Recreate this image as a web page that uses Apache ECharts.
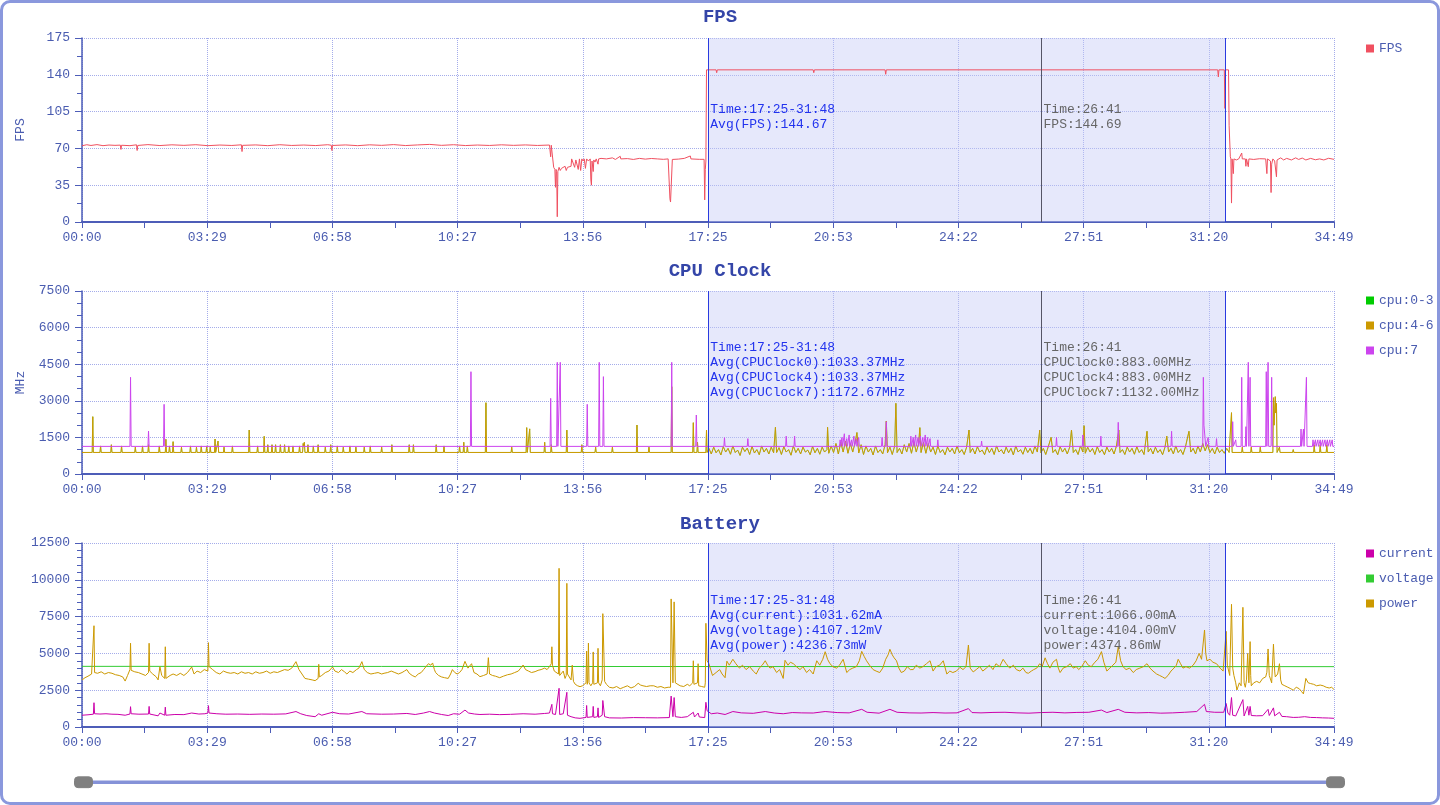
<!DOCTYPE html>
<html><head><meta charset="utf-8">
<script src="https://cdn.jsdelivr.net/npm/echarts@6.0.0/dist/echarts.min.js"></script>
<style>
html,body{margin:0;padding:0;background:#fff;}
#c{width:1440px;height:805px;}
#b{position:absolute;left:0;top:0;width:1440px;height:805px;box-sizing:border-box;border:3px solid #8a98dd;border-radius:10px;pointer-events:none;}
</style>
</head><body><div id="c"></div><div id="b"></div>
<script>
// ---------- data (time in seconds, value) ----------
const selStart = 1045, selEnd = 1908, cursorT = 1601;

const fpsData = [[0,72.5],[8,73.5],[15,72.8],[25,73.6],[35,72.6],[45,73.2],[55,72.9],[64,73.1],[65,69],[66,73],[80,72.6],[91,73.4],[92,68],[93,72.8],[110,73.6],[130,72.7],[150,73.4],[170,72.9],[190,73.5],[210,72.6],[230,73.2],[250,72.8],[266,73.4],[267,67],[268,72.9],[290,73.3],[310,72.6],[330,73.5],[350,72.8],[370,73.2],[390,72.7],[410,73.5],[416,73],[417,68],[418,72.8],[440,73.3],[460,72.6],[480,73.4],[500,72.9],[520,73.6],[540,72.7],[560,73.3],[580,73.8],[600,72.9],[620,73.5],[640,72.7],[660,73.2],[680,72.8],[700,73.4],[720,72.9],[740,73.3],[760,72.8],[780,73.2],[781,73],[782,62],[783,73],[786,73],
[787,52],[789,50],[790,33],[791,50],[792,48],[793,5],[794,48],[796,52],[798,49],[800,51],[803,50],[806,53],[808,49],[810,52],[813,51],[816,53],[817,60],[820,60],[822,52],[824,59],[826,60],[828,50],[830,60],[832,49],[834,60],[836,58],[838,60],[840,51],[842,60],[845,58],[848,60],[849,40],[850,35],[851,58],[853,48],[854,59],[856,57],[858,60],[861,55],[862,60],[866,60.5],[875,60],[885,61],[890,59.5],[898,62.5],[899,60],[910,60.3],[920,59.5],[930,60.5],[940,59.8],[950,60.4],[960,60],[970,59.6],[978,60],[980,60],[981,22],[982,19],[983,18],[984,20],[985,59.5],[995,59.8],[1005,60.5],[1015,62.8],[1016,60],[1030,59.6],[1038,59.6],[1039,21],[1040,50],[1041,58],
[1042,144.7],[1058,144.7],[1059,142],[1060,144.7],[1220,144.7],[1221,142],[1222,144.7],[1340,144.7],[1341,140.5],[1342,144.7],[1762,144.7],[1763,143],[1764,144.7],[1895,144.7],[1896,138],[1897,144.7],[1906,144.7],[1907,108],[1908,144.7],[1913,144.7],[1914,92],[1916,62],[1917,60],[1918,18],[1919,60],[1921,46],[1922,60],[1926,59],[1930,60],[1935,65.6],[1936,60],[1941,60],[1942,53],[1943,60],[1945,60],[1946,52.6],[1947,60],[1955,59.5],[1965,60.2],[1975,60],[1976,60],[1977,46],[1978,60],[1983,58],[1984,28],[1985,55],[1987,60],[1990,58],[1993,43],[1994,59],[2000,61],[2005,59],[2010,60.5],[2018,59],[2025,61],[2030,59.5],[2036,60.8],[2042,59],[2050,60.5],[2058,59.2],[2065,60],[2072,59],[2080,60.6],[2089,59.6]];

const cpu46Data = [[0,883],[17,883],[18,2349],[19,883],[30,883],[31,1150],[32,883],[48,883],[49,1200],[50,883],[65,883],[66,1150],[67,883],[88,883],[89,1100],[90,883],[100,883],[101,1150],[102,883],[110,883],[111,1200],[112,883],[128,883],[129,1150],[130,883],[139,883],[140,1421],[141,883],[145,883],[146,1150],[147,883],[151,883],[152,1325],[153,883],[165,883],[166,1100],[167,883],[180,883],[181,1150],[182,883],[190,883],[191,1100],[192,883],[198,883],[199,1150],[200,883],[207,883],[208,1150],[209,883],[213,883],[214,1100],[215,883],[221,883],[222,1434],[223,883],[226,883],[227,1350],[228,883],[236,883],[237,1100],[238,883],[250,883],[251,1150],[252,883],[278,883],[279,1803],[280,883],[292,883],[293,1150],[294,883],[303,883],[304,1544],[305,883],[309,883],[310,1200],[311,883],[316,883],[317,1200],[318,883],[322,883],[323,1200],[324,883],[330,883],[331,1200],[332,883],[337,883],[338,1200],[339,883],[344,883],[345,1150],[346,883],[351,883],[352,1150],[353,883],[362,883],[363,1150],[364,883],[368,883],[369,1250],[370,1150],[371,1300],[372,883],[376,883],[377,1200],[378,883],[385,883],[386,1150],[387,883],[393,883],[394,1200],[395,883],[405,883],[406,1100],[407,883],[414,883],[415,1200],[416,883],[425,883],[426,1150],[427,883],[435,883],[436,1100],[437,883],[446,883],[447,1150],[448,883],[456,883],[457,1100],[458,883],[470,883],[471,1100],[472,883],[480,883],[481,1150],[482,883],[499,883],[500,1100],[501,883],[516,883],[517,1200],[518,883],[545,883],[546,1200],[547,883],[552,883],[553,1200],[554,883],[590,883],[591,1200],[592,883],[603,883],[604,1150],[605,883],[629,883],[630,1150],[631,883],[636,883],[637,1300],[638,883],[642,883],[643,1150],[644,883],[673,883],[674,2922],[675,883],[716,883],[717,1100],[718,883],[741,883],[742,1900],[743,883],[746,883],[747,1850],[748,883],[771,883],[772,1300],[773,883],[782,883],[783,1200],[784,883],[808,883],[809,1800],[810,883],[833,883],[834,1200],[835,883],[856,883],[857,1100],[858,883],[884,883],[885,1100],[886,883],[925,883],[926,2008],[927,883],[945,883],[946,1100],[947,883],[983,883],[984,3578],[985,883],[1019,883],[1020,2103],[1021,883],[1026,883],[1027,1300],[1028,883],[1041,883],[1042,1803],[1043,883],
[1046,1050],[1050,820],[1054,1100],[1058,870],[1062,1000],[1066,780],[1070,1120],[1074,900],[1078,1050],[1082,810],[1086,1150],[1090,880],[1094,980],[1098,760],[1102,1100],[1106,920],[1110,1060],[1114,800],[1118,1130],[1122,860],[1126,1000],[1130,790],[1134,1150],[1138,900],[1142,1050],[1146,820],[1150,1100],[1154,870],[1157,1913],[1159,880],[1163,1080],[1167,800],[1171,1120],[1175,900],[1179,1000],[1183,770],[1187,1150],[1191,880],[1195,1050],[1199,820],[1203,1100],[1207,900],[1211,980],[1215,790],[1219,1130],[1223,870],[1227,1050],[1231,810],[1235,1100],[1239,900],[1243,1000],[1244,1913],[1246,850],[1250,1150],[1254,880],[1258,1250],[1262,820],[1266,1300],[1270,900],[1274,1350],[1278,850],[1282,1250],[1286,900],[1290,1300],[1293,1700],[1296,860],[1300,1200],[1304,800],[1308,1150],[1312,900],[1316,1050],[1320,780],[1324,1150],[1328,880],[1332,1000],[1336,820],[1340,1200],[1342,2172],[1344,870],[1348,1100],[1352,800],[1356,1150],[1358,2897],[1360,880],[1364,1050],[1368,820],[1372,1200],[1376,900],[1380,1250],[1384,850],[1388,1300],[1392,900],[1396,1250],[1398,1900],[1400,880],[1404,1300],[1408,850],[1412,1250],[1416,900],[1420,1100],[1424,800],[1428,1150],[1432,880],[1436,1000],[1440,790],[1444,1100],[1448,900],[1452,1050],[1456,820],[1460,1150],[1464,870],[1468,1000],[1472,800],[1476,1100],[1480,1803],[1482,880],[1486,1050],[1490,820],[1494,1120],[1498,900],[1502,980],[1506,790],[1510,1100],[1514,880],[1518,1050],[1522,800],[1526,1150],[1530,900],[1534,1000],[1538,820],[1542,1100],[1546,870],[1550,1050],[1554,780],[1558,1150],[1562,900],[1566,1000],[1570,810],[1574,1100],[1578,880],[1582,1050],[1586,820],[1590,1150],[1594,900],[1598,1800],[1600,870],[1604,1050],[1608,800],[1612,1100],[1617,1500],[1620,880],[1624,1000],[1628,790],[1632,1120],[1636,900],[1640,1050],[1644,820],[1648,1100],[1651,1800],[1654,880],[1658,1000],[1662,800],[1666,1150],[1670,900],[1672,1980],[1674,850],[1678,1100],[1682,900],[1686,1050],[1690,800],[1694,1120],[1698,880],[1702,1000],[1706,790],[1710,1100],[1714,900],[1718,1050],[1722,820],[1726,1150],[1730,1800],[1732,880],[1736,1000],[1740,800],[1744,1100],[1748,900],[1752,1050],[1756,810],[1760,1120],[1764,880],[1768,1000],[1772,800],[1777,1750],[1779,900],[1783,1050],[1787,820],[1791,1100],[1795,880],[1799,1000],[1803,790],[1807,1100],[1810,1550],[1813,900],[1817,1050],[1821,820],[1825,1150],[1829,880],[1833,1000],[1837,800],[1841,1100],[1847,1750],[1850,900],[1854,1050],[1858,820],[1862,1150],[1866,900],[1870,1250],[1874,950],[1878,1200],[1882,880],[1886,1050],[1890,820],[1894,1100],[1898,880],[1902,1000],[1906,850],[1910,1050],[1914,883],
[1917,883],[1918,2513],[1919,883],[1935,883],[1936,1100],[1937,883],[1950,883],[1951,1100],[1952,883],[1965,883],[1966,1100],[1967,883],[1987,883],[1988,3127],[1989,2000],[1991,3169],[1992,2500],[1993,2897],[1994,883],[1997,883],[1998,1100],[1999,883],[2020,883],[2021,1000],[2022,883],[2055,883],[2056,1200],[2057,883],[2065,883],[2066,1200],[2067,883],[2076,883],[2077,1200],[2078,883],[2089,883]];

// cpu:0-3 equals cpu:4-6 (same averages), drawn underneath
const cpu03Data = cpu46Data;

const cpu7Data = [[0,1132],[80,1132],[81,3963],[82,1132],[110,1132],[111,1762],[112,1132],[136,1132],[137,2856],[138,1132],[648,1132],[649,4193],[650,1132],[781,1132],[782,3100],[783,1132],[792,1132],[793,4577],[794,1132],[797,1132],[798,4577],[799,1132],[842,1132],[843,2856],[844,1132],[862,1132],[863,4577],[864,1132],[869,1132],[870,3990],[871,1132],[983,1132],[984,4577],[985,1132],[1024,1132],[1025,2418],[1026,1132],
[1071,1132],[1072,1490],[1073,1132],[1110,1132],[1111,1450],[1112,1132],[1174,1132],[1175,1550],[1176,1132],[1188,1132],[1189,1550],[1190,1132],[1264,1132],[1265,1400],[1266,1132],[1268,1500],[1269,1132],[1272,1650],[1273,1132],[1276,1450],[1277,1132],[1280,1600],[1281,1132],[1284,1400],[1285,1132],[1288,1550],[1289,1132],[1292,1450],[1293,1132],[1296,1500],[1297,1132],[1334,1132],[1335,1500],[1336,1132],[1341,1132],[1342,2144],[1343,1132],[1382,1132],[1383,1550],[1384,1132],[1387,1500],[1388,1132],[1391,1600],[1392,1132],[1395,1500],[1396,1132],[1399,1550],[1400,1132],[1403,1500],[1404,1132],[1407,1600],[1408,1132],[1411,1500],[1412,1132],[1415,1450],[1416,1132],[1427,1132],[1428,1400],[1429,1132],[1500,1132],[1501,1350],[1502,1132],[1625,1132],[1626,1500],[1627,1132],[1669,1132],[1670,1600],[1671,1132],[1699,1132],[1700,1550],[1701,1132],[1728,1132],[1729,2118],[1730,1132],[1817,1132],[1818,1750],[1819,1132],[1870,1132],[1871,3963],[1872,2000],[1874,2000],[1875,1132],[1878,1132],[1879,1500],[1880,1132],[1892,1132],[1893,1450],[1894,1132],
[1919,1132],[1920,2144],[1921,1132],[1924,1132],[1925,1400],[1926,1132],[1934,1132],[1935,3963],[1936,1132],[1941,1132],[1942,1940],[1943,1132],[1945,1132],[1946,4577],[1947,1132],[1948,1132],[1949,3963],[1950,1132],[1975,1132],[1976,4193],[1977,1132],[1978,1132],[1979,4577],[1980,1132],[1984,1132],[1985,3963],[1986,1132],[2033,1132],[2034,1844],[2035,1132],[2037,1132],[2038,1844],[2039,1132],[2042,1132],[2043,3963],[2044,1132],[2053,1132],[2054,1400],[2055,1132],[2057,1132],[2058,1400],[2059,1132],[2061,1132],[2062,1400],[2063,1132],[2065,1132],[2066,1400],[2067,1132],[2069,1132],[2070,1400],[2071,1132],[2073,1132],[2074,1400],[2075,1132],[2077,1132],[2078,1400],[2079,1132],[2081,1132],[2082,1400],[2083,1132],[2085,1132],[2086,1400],[2087,1132],[2089,1132]];

const powerData = [[0,3190],[5,3350],[10,3450],[16,3600],[19,3650],[20,6880],[21,3700],[26,3650],[32,3750],[38,3600],[44,3700],[50,3650],[56,3550],[62,3500],[68,3400],[72,3120],[76,3500],[80,3900],[81,5690],[82,3850],[88,3750],[94,3700],[100,3600],[106,3500],[111,3700],[112,5690],[113,3800],[118,3600],[124,3400],[127,3200],[130,4100],[133,3500],[138,3300],[139,5450],[140,3300],[142,3200],[147,3500],[152,3600],[158,3500],[164,3650],[170,3500],[176,3700],[183,4075],[187,3600],[192,3800],[198,3700],[204,3900],[210,3800],[211,5730],[212,4100],[218,3900],[224,3700],[230,3600],[236,3800],[242,3700],[248,3650],[254,3700],[260,3600],[266,3750],[272,3650],[278,3700],[284,3600],[290,3750],[296,3650],[302,3700],[308,3800],[314,3650],[320,3750],[326,3700],[332,3800],[338,3900],[344,3850],[350,4000],[357,4440],[362,3900],[367,3600],[372,3300],[378,3250],[384,3200],[389,3150],[394,3300],[395,4260],[396,3400],[400,3500],[406,3700],[412,3800],[418,4075],[422,3800],[428,3700],[433,3900],[438,3750],[442,3600],[447,3800],[452,3700],[458,3900],[462,4000],[467,4440],[471,3900],[476,3700],[482,3600],[488,3650],[494,3700],[500,3600],[504,3650],[510,3700],[516,3800],[522,3700],[528,3600],[534,3700],[538,3800],[542,3900],[546,3650],[551,3500],[556,3400],[561,3600],[566,3700],[570,3900],[574,4100],[578,4300],[582,4200],[585,4350],[588,3900],[590,3700],[595,3500],[600,3400],[605,3350],[611,3300],[615,3600],[618,3900],[622,3700],[626,3600],[630,3700],[634,3900],[639,4460],[644,4000],[650,4300],[654,3700],[659,3600],[664,3420],[670,3500],[676,3600],[678,4710],[680,3600],[685,3500],[690,3450],[697,3350],[703,3450],[710,3550],[716,3600],[722,3700],[728,3800],[732,4000],[736,4210],[740,3900],[745,3800],[750,3700],[756,3760],[761,3850],[766,3900],[772,4000],[776,3900],[780,4100],[783,4300],[784,5450],[785,4200],[788,3800],[791,3700],[795,3600],[796,10780],[797,3500],[800,3400],[803,3800],[806,3300],[808,3500],[809,9760],[810,3600],[813,3400],[816,3200],[818,4200],[820,3100],[823,2900],[827,2800],[831,2740],[835,2800],[838,2700],[841,3000],[842,5160],[843,2900],[844,3200],[845,5700],[846,3000],[849,2800],[852,3000],[853,5100],[854,2900],[857,2800],[860,3000],[861,5345],[862,3000],[865,2800],[868,3200],[869,7700],[870,7720],[871,7700],[872,3100],[875,2900],[880,2700],[886,2650],[892,2750],[898,2600],[904,2700],[910,2800],[916,2650],[922,2750],[928,2970],[932,2850],[936,2800],[942,2750],[948,2800],[954,2800],[960,2700],[966,2750],[972,2650],[978,2700],[982,2700],[983,8700],[984,8740],[986,3000],[988,8500],[990,3000],[993,2900],[998,2800],[1004,2750],[1010,2900],[1014,2800],[1019,3000],[1020,4500],[1021,2900],[1024,2800],[1027,3000],[1028,4300],[1029,2800],[1034,2750],[1039,2700],[1040,3000],[1041,7045],[1043,4500],[1046,4300],[1052,3500],[1058,3700],[1064,3900],[1068,3600],[1073,3350],[1076,4470],[1080,4200],[1086,4600],[1091,4300],[1097,4000],[1102,4200],[1108,3900],[1114,4100],[1120,3800],[1125,3600],[1130,4000],[1135,4200],[1140,4500],[1144,4200],[1148,4000],[1153,4100],[1159,3700],[1164,3900],[1170,3300],[1173,4530],[1178,4200],[1182,4400],[1187,4300],[1192,4100],[1198,3900],[1203,4100],[1209,3700],[1214,3900],[1220,3600],[1226,4500],[1231,4200],[1236,4600],[1240,5116],[1244,4600],[1248,4300],[1253,4100],[1259,4000],[1264,4200],[1270,4600],[1276,3700],[1281,3900],[1286,4000],[1292,4100],[1297,4500],[1301,5140],[1305,4800],[1309,4500],[1314,4200],[1320,3900],[1325,3800],[1331,3700],[1336,4000],[1341,4600],[1345,4900],[1348,5280],[1352,4900],[1355,4700],[1359,4500],[1363,4000],[1367,3700],[1372,3800],[1377,4100],[1382,3900],[1387,3900],[1392,4200],[1398,4000],[1403,4100],[1409,4300],[1415,4500],[1420,3800],[1425,4100],[1431,4200],[1437,4500],[1443,3600],[1448,3800],[1453,3700],[1459,3800],[1465,4055],[1470,3900],[1475,4100],[1479,5570],[1482,4000],[1487,3740],[1492,3900],[1498,4100],[1503,3800],[1509,4000],[1514,4200],[1520,3900],[1525,4300],[1531,4100],[1537,4600],[1542,4300],[1548,4000],[1554,4200],[1559,3900],[1565,3800],[1570,4000],[1575,3700],[1579,3650],[1584,3800],[1588,3900],[1593,4000],[1598,4300],[1602,4100],[1607,4700],[1611,4300],[1615,4000],[1620,4400],[1626,4600],[1629,4000],[1632,3700],[1637,4000],[1643,4100],[1649,4300],[1654,4000],[1659,4100],[1663,3900],[1668,4100],[1674,4500],[1679,4200],[1684,4100],[1690,4400],[1695,4600],[1701,5120],[1705,4400],[1710,3800],[1715,4000],[1720,4200],[1725,4400],[1729,5450],[1733,4500],[1737,4100],[1742,3900],[1748,4000],[1754,3700],[1759,3900],[1765,4000],[1771,4100],[1777,4300],[1782,4000],[1787,3800],[1793,3600],[1798,3500],[1803,3400],[1807,3300],[1812,3500],[1817,3800],[1822,4000],[1826,4200],[1829,4600],[1833,4300],[1837,4000],[1842,4100],[1848,4000],[1854,4200],[1859,4500],[1864,5000],[1868,4600],[1873,6590],[1875,5000],[1877,4500],[1882,4600],[1887,4400],[1893,4300],[1899,4000],[1904,3800],[1909,6500],[1911,4200],[1915,3500],[1918,8335],[1920,4000],[1922,3500],[1925,3000],[1927,2513],[1931,3000],[1934,2800],[1937,8130],[1939,3000],[1941,2700],[1943,3200],[1945,5000],[1947,3000],[1949,5800],[1950,3500],[1951,2800],[1955,3000],[1960,3100],[1965,3000],[1970,3300],[1975,3400],[1977,3720],[1979,5300],[1981,3500],[1985,3000],[1988,5625],[1990,3800],[1991,3400],[1995,3600],[1998,4300],[2000,3200],[2002,2900],[2007,2800],[2012,2700],[2017,2600],[2021,2500],[2026,2700],[2031,2600],[2035,2400],[2038,2250],[2042,3300],[2046,3000],[2050,2950],[2055,2900],[2060,2800],[2066,2850],[2071,2800],[2076,2700],[2081,2650],[2085,2700],[2089,2550]];

const currentData = [[0,800],[10,830],[19,870],[20,1650],[21,900],[30,880],[40,900],[50,870],[60,860],[72,800],[80,880],[81,1380],[82,900],[95,870],[111,880],[112,1400],[113,880],[127,760],[130,950],[138,800],[139,1350],[140,800],[155,850],[170,840],[183,950],[195,880],[205,900],[210,950],[211,1450],[212,950],[225,900],[240,870],[260,880],[280,860],[300,880],[320,870],[340,890],[357,1050],[365,900],[375,780],[389,700],[395,900],[400,800],[418,1000],[430,900],[445,880],[467,1050],[475,900],[500,870],[520,880],[542,920],[556,850],[570,950],[580,1050],[588,950],[600,850],[611,780],[620,900],[630,870],[639,1150],[645,950],[655,880],[664,850],[680,870],[697,840],[715,860],[736,900],[756,870],[772,920],[780,950],[784,1540],[785,900],[790,850],[796,2630],[797,850],[803,900],[809,2357],[810,800],[816,700],[823,620],[831,590],[841,650],[842,1460],[843,650],[852,700],[853,1400],[854,650],[860,700],[861,1300],[862,650],[868,800],[869,1800],[870,1834],[871,1800],[872,700],[880,620],[900,610],[920,640],[940,630],[960,620],[980,640],[983,2100],[984,2128],[986,700],[988,2000],[990,700],[1000,650],[1010,700],[1020,1000],[1022,680],[1028,950],[1030,680],[1039,640],[1041,1680],[1043,1100],[1050,900],[1060,950],[1073,850],[1086,1050],[1100,960],[1120,930],[1140,1050],[1155,950],[1170,900],[1185,980],[1200,960],[1220,950],[1240,1050],[1260,980],[1280,960],[1301,1200],[1310,1000],[1330,940],[1348,1200],[1360,1000],[1380,960],[1400,950],[1420,980],[1440,950],[1460,960],[1479,1250],[1485,980],[1500,960],[1520,990],[1540,1000],[1560,960],[1580,940],[1600,980],[1620,1000],[1640,960],[1660,990],[1680,1000],[1701,1150],[1710,980],[1729,1200],[1740,1000],[1760,960],[1780,980],[1800,940],[1820,960],[1840,1000],[1860,1050],[1873,1540],[1876,1050],[1890,1000],[1905,1000],[1909,1600],[1912,950],[1915,800],[1918,2000],[1920,800],[1925,750],[1937,1860],[1939,750],[1945,1400],[1947,800],[1949,1400],[1951,780],[1960,760],[1970,770],[1979,1200],[1981,780],[1988,1300],[1990,760],[1998,1000],[2002,720],[2010,700],[2021,650],[2030,660],[2040,700],[2050,650],[2060,640],[2070,620],[2080,610],[2089,590]];

const voltageData = [[0,4120],[500,4115],[1045,4107],[1500,4105],[2089,4100]];

const fpsTicks = {max:175, interval:35};
const cpuTicks = {max:7500, interval:1500};
const batTicks = {max:12500, interval:2500};

const fpsTexts = ['Time:17:25-31:48\nAvg(FPS):144.67', 'Time:26:41\nFPS:144.69'];
const cpuTexts = ['Time:17:25-31:48\nAvg(CPUClock0):1033.37MHz\nAvg(CPUClock4):1033.37MHz\nAvg(CPUClock7):1172.67MHz',
                  'Time:26:41\nCPUClock0:883.00MHz\nCPUClock4:883.00MHz\nCPUClock7:1132.00MHz'];
const batTexts = ['Time:17:25-31:48\nAvg(current):1031.62mA\nAvg(voltage):4107.12mV\nAvg(power):4236.73mW',
                  'Time:26:41\ncurrent:1066.00mA\nvoltage:4104.00mV\npower:4374.86mW'];

// ---------- styling ----------
const FONT = 'Liberation Mono';
const BLUE = '#4a5cb0';
const AXIS = '#4d5db8';
function fmt(v){const s=Math.round(v+0.01);const m=Math.floor(s/60),ss=s%60;return String(m).padStart(2,'0')+':'+String(ss).padStart(2,'0');}

function xAxis(i){
  return {type:'value',gridIndex:i,min:0,max:2089,interval:208.9,
    axisLine:{lineStyle:{color:AXIS,width:2}},
    axisTick:{length:6,lineStyle:{color:AXIS}},
    minorTick:{show:true,splitNumber:2,length:6,lineStyle:{color:AXIS}},
    axisLabel:{formatter:fmt,color:BLUE,fontFamily:FONT,fontSize:13,margin:9,showMaxLabel:true,showMinLabel:true},
    splitLine:{show:true,lineStyle:{type:'dotted',color:'#a4acea'}}};
}
function yAxis(i,t,minorSplit,name){
  return {type:'value',gridIndex:i,min:0,max:t.max,interval:t.interval,
    name:name,nameLocation:'middle',nameGap:55,nameMoveOverlap:false,nameTextStyle:{color:BLUE,fontFamily:FONT,fontSize:13},
    axisLine:{show:true,lineStyle:{color:AXIS,width:1.5}},
    axisTick:{show:true,length:7,lineStyle:{color:AXIS}},
    minorTick:{show:true,splitNumber:minorSplit,length:5,lineStyle:{color:AXIS}},
    axisLabel:{color:BLUE,fontFamily:FONT,fontSize:13,margin:12,formatter:(v)=>String(v)},
    splitLine:{show:true,lineStyle:{type:'dotted',color:'#a4acea'}}};
}
function marks(texts,yMid){
  const lbl = (c)=>({show:true,position:'right',distance:2,align:'left',color:c,fontFamily:FONT,fontSize:13,lineHeight:15});
  return {
    markArea:{silent:true,itemStyle:{color:'rgba(196,200,246,0.42)'},data:[[{xAxis:selStart},{xAxis:selEnd}]]},
    markLine:{silent:true,symbol:['none','none'],label:{show:false},animation:false,
      data:[{xAxis:selStart,lineStyle:{color:'#2a3be0',type:'solid',width:1}},
            {xAxis:selEnd,lineStyle:{color:'#2a3be0',type:'solid',width:1}},
            {xAxis:cursorT,lineStyle:{color:'#555566',type:'solid',width:1}}]},
    markPoint:{silent:true,symbol:'circle',symbolSize:0,animation:false,
      data:[{coord:[selStart,yMid],label:Object.assign(lbl('#2233ee'),{formatter:texts[0]})},
            {coord:[cursorT,yMid],label:Object.assign(lbl('#666666'),{formatter:texts[1]})}]}
  };
}
function line(name,xi,data,color,width,extra){
  return Object.assign({type:'line',name:name,xAxisIndex:xi,yAxisIndex:xi,data:data,showSymbol:false,symbol:'none',
    lineStyle:{width:width,color:color},itemStyle:{color:color},emphasis:{disabled:true},animation:false},extra||{});
}
const legendBase = {orient:'vertical',left:1361,itemWidth:8,itemHeight:8,itemGap:10,icon:'rect',
  textStyle:{color:BLUE,fontFamily:FONT,fontSize:13,lineHeight:15}};
const titleStyle = {fontFamily:FONT,fontSize:19,fontWeight:'bold',color:'#3445a8'};

const chart = echarts.init(document.getElementById('c'));
chart.setOption({
  animation:false,
  backgroundColor:'#fff',
  title:[
    {text:'FPS',left:'center',top:8,padding:0,textStyle:titleStyle},
    {text:'CPU Clock',left:'center',top:262,padding:0,textStyle:titleStyle},
    {text:'Battery',left:'center',top:515,padding:0,textStyle:titleStyle}
  ],
  legend:[
    Object.assign({},legendBase,{top:36,data:['FPS']}),
    Object.assign({},legendBase,{top:288,data:['cpu:0-3','cpu:4-6','cpu:7']}),
    Object.assign({},legendBase,{top:541,data:['current','voltage','power']})
  ],
  grid:[
    {left:82,width:1252,top:38,height:184},
    {left:82,width:1252,top:291,height:183},
    {left:82,width:1252,top:543,height:184}
  ],
  xAxis:[xAxis(0),xAxis(1),xAxis(2)],
  yAxis:[yAxis(0,fpsTicks,2,'FPS'),yAxis(1,cpuTicks,3,'MHz'),yAxis(2,batTicks,5,'')],
  dataZoom:[{type:'slider',xAxisIndex:[0,1,2],start:0,end:100,filterMode:'none',
    left:81,right:105,top:780,height:3.5,
    backgroundColor:'transparent',borderColor:'transparent',fillerColor:'#8592d8',
    showDetail:false,showDataShadow:false,brushSelect:false,moveHandleSize:0,
    dataBackground:{lineStyle:{opacity:0},areaStyle:{opacity:0}},
    selectedDataBackground:{lineStyle:{opacity:0},areaStyle:{opacity:0}},
    handleIcon:'path://M4,0 H16 A4,4 0 0 1 20,4 V8 A4,4 0 0 1 16,12 H4 A4,4 0 0 1 0,8 V4 A4,4 0 0 1 4,0 Z',
    handleSize:18,handleStyle:{color:'#808080',borderColor:'#808080'},
    emphasis:{handleStyle:{color:'#808080',borderColor:'#808080'}}
  }],
  series:[
    line('FPS',0,fpsData,'#f05060',1,marks(fpsTexts,99.6)),
    line('cpu:0-3',1,cpu03Data,'#00cc00',0.4,marks(cpuTexts,4250)),
    line('cpu:4-6',1,cpu46Data,'#cc9900',1),
    line('cpu:7',1,cpu7Data,'#cc44ee',1),
    line('current',2,currentData,'#cc00aa',1,marks(batTexts,7080)),
    line('voltage',2,voltageData,'#33cc33',1),
    line('power',2,powerData,'#cc9900',1)
  ]
});
</script>
</body></html>
